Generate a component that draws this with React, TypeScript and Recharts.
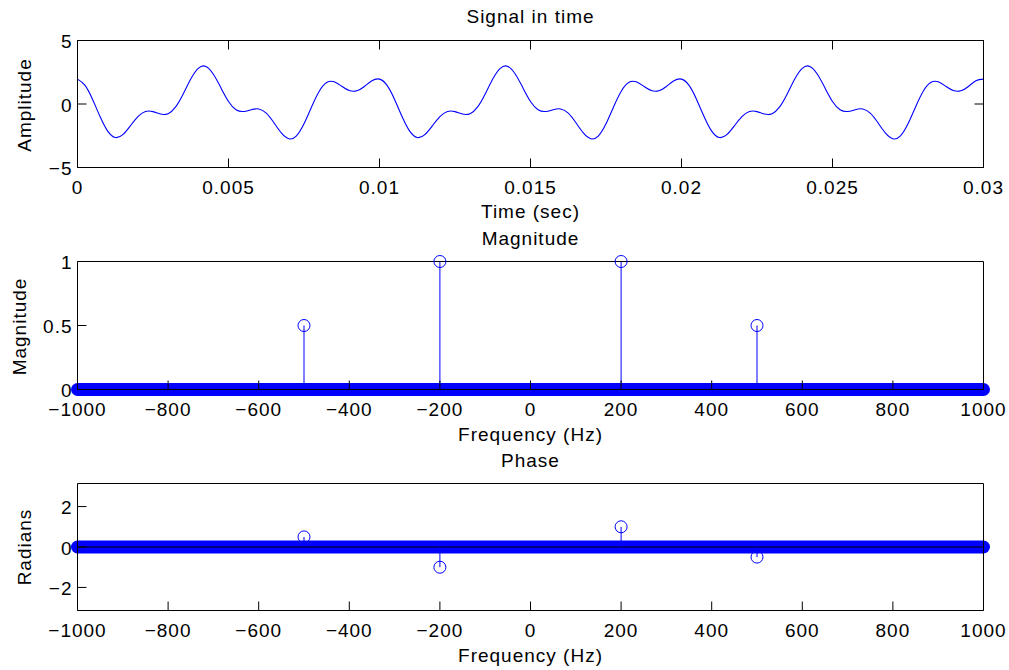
import React from 'react';
import { ComposedChart, LineChart, Line, Scatter, XAxis, YAxis } from 'recharts';

// time signal
const signalTime = [
  0, 0.00025, 0.0005, 0.00075, 0.001, 0.00125, 0.0015, 0.00175, 0.002, 0.00225,
  0.0025, 0.00275, 0.003, 0.00325, 0.0035, 0.00375, 0.004, 0.00425, 0.0045, 0.00475,
  0.005, 0.00525, 0.0055, 0.00575, 0.006, 0.00625, 0.0065, 0.00675, 0.007, 0.00725,
  0.0075, 0.00775, 0.008, 0.00825, 0.0085, 0.00875, 0.009, 0.00925, 0.0095, 0.00975,
  0.01, 0.01025, 0.0105, 0.01075, 0.011, 0.01125, 0.0115, 0.01175, 0.012, 0.01225,
  0.0125, 0.01275, 0.013, 0.01325, 0.0135, 0.01375, 0.014, 0.01425, 0.0145, 0.01475,
  0.015, 0.01525, 0.0155, 0.01575, 0.016, 0.01625, 0.0165, 0.01675, 0.017, 0.01725,
  0.0175, 0.01775, 0.018, 0.01825, 0.0185, 0.01875, 0.019, 0.01925, 0.0195, 0.01975,
  0.02, 0.02025, 0.0205, 0.02075, 0.021, 0.02125, 0.0215, 0.02175, 0.022, 0.02225,
  0.0225, 0.02275, 0.023, 0.02325, 0.0235, 0.02375, 0.024, 0.02425, 0.0245, 0.02475,
  0.025, 0.02525, 0.0255, 0.02575, 0.026, 0.02625, 0.0265, 0.02675, 0.027, 0.02725,
  0.0275, 0.02775, 0.028, 0.02825, 0.0285, 0.02875, 0.029, 0.02925, 0.0295, 0.02975,
  0.03,
];
const signalAmp = [
  1.96, 1.47, 0.36, -1.01, -2.14, -2.64, -2.41, -1.72, -0.99, -0.59,
  -0.6, -0.79, -0.76, -0.23, 0.79, 1.97, 2.81, 2.96, 2.34, 1.27,
  0.2, -0.45, -0.59, -0.45, -0.39, -0.72, -1.46, -2.28, -2.74, -2.51,
  -1.56, -0.23, 0.99, 1.69, 1.75, 1.4, 1.06, 1.04, 1.38, 1.83,
  1.96, 1.47, 0.36, -1.01, -2.14, -2.64, -2.41, -1.72, -0.99, -0.59,
  -0.6, -0.79, -0.76, -0.23, 0.79, 1.97, 2.81, 2.96, 2.34, 1.27,
  0.2, -0.45, -0.59, -0.45, -0.39, -0.72, -1.46, -2.28, -2.74, -2.51,
  -1.56, -0.23, 0.99, 1.69, 1.75, 1.4, 1.06, 1.04, 1.38, 1.83,
  1.96, 1.47, 0.36, -1.01, -2.14, -2.64, -2.41, -1.72, -0.99, -0.59,
  -0.6, -0.79, -0.76, -0.23, 0.79, 1.97, 2.81, 2.96, 2.34, 1.27,
  0.2, -0.45, -0.59, -0.45, -0.39, -0.72, -1.46, -2.28, -2.74, -2.51,
  -1.56, -0.23, 0.99, 1.69, 1.75, 1.4, 1.06, 1.04, 1.38, 1.83,
  1.96,
];
const timeTicks = [0, 0.005, 0.01, 0.015, 0.02, 0.025, 0.03];
const ampTicks = [-5, 0, 5];

// spectrum
const freqTicks = [-1000, -800, -600, -400, -200, 0, 200, 400, 600, 800, 1000];
const peakFreqs = [-500, -200, 200, 500];
const peakMagnitude = [0.5, 1, 1, 0.5];
const peakPhase = [0.5, -1, 1, -0.5];
// all other bins sit at zero from -1000 to 1000 (drawn as one solid run of markers)
const zeroBinRange = [-1000, 1000];
const magTicks = [0, 0.5, 1];
const phaseTicks = [-2, 0, 2];

const signalData = signalTime.map((t, i) => ({ t, v: signalAmp[i] }));
const zeroData = zeroBinRange.map((f) => ({ f, v: 0 }));
const magPeaks = peakFreqs.map((f, i) => ({ f, v: peakMagnitude[i] }));
const phasePeaks = peakFreqs.map((f, i) => ({ f, v: peakPhase[i] }));

const W = 1009;
const BLUE = '#0000ff';
const FONT = '"Liberation Sans", Arial, Helvetica, sans-serif';
const TICK = 9;

const fmt = (v: number) => (v < 0 ? '\u2212' + String(-v) : String(v));

const textStyle: React.CSSProperties = { letterSpacing: 1 };

const BottomTick = (props: any) => {
  const { x, y, payload } = props;
  return (
    <g>
      <line x1={x} y1={y} x2={x} y2={y - TICK} stroke="#000" />
      <text x={x} y={y + 26.5} textAnchor="middle" fontSize={19} fontFamily={FONT} fill="#000" style={textStyle}>
        {fmt(payload.value)}
      </text>
    </g>
  );
};
const TopTick = (props: any) => {
  const { x, y } = props;
  return <line x1={x} y1={y} x2={x} y2={y + TICK} stroke="#000" />;
};
const LeftTick = (props: any) => {
  const { x, y, payload } = props;
  return (
    <g>
      <line x1={x} y1={y} x2={x + TICK} y2={y} stroke="#000" />
      <text x={x - 5} y={y + 7.8} textAnchor="end" fontSize={19} fontFamily={FONT} fill="#000" style={textStyle}>
        {fmt(payload.value)}
      </text>
    </g>
  );
};
const RightTick = (props: any) => {
  const { x, y } = props;
  return <line x1={x - TICK} y1={y} x2={x} y2={y} stroke="#000" />;
};

function axes(xKey: string, xDomain: number[], xTicks: number[], yDomain: number[], yTicks: number[], topH: number, bottomH: number) {
  const common = { type: 'number' as const, interval: 0 as const, tickSize: 0, tickMargin: 0, tickLine: false, axisLine: { stroke: '#000' } };
  return [
    <XAxis key="xb" xAxisId="x" dataKey={xKey} orientation="bottom" height={bottomH} domain={xDomain} ticks={xTicks} tick={<BottomTick />} {...common} />,
    <XAxis key="xt" xAxisId="xt" dataKey={xKey} orientation="top" height={topH} domain={xDomain} ticks={xTicks} tick={<TopTick />} {...common} />,
    <YAxis key="yl" yAxisId="y" dataKey="v" orientation="left" width={77.5} domain={yDomain} ticks={yTicks} tick={<LeftTick />} {...common} />,
    <YAxis key="yr" yAxisId="yr" dataKey="v" orientation="right" width={25.5} domain={yDomain} ticks={yTicks} tick={<RightTick />} {...common} />,
  ];
}

const circle = (p: any) => <circle cx={p.cx} cy={p.cy} r={6} fill="none" stroke={BLUE} strokeWidth={1} />;

function StemPanel({ peaks, yDomain, yTicks, topH, bottomH, height }: any) {
  return (
    <ComposedChart width={W} height={height} margin={{ top: 0, right: 0, bottom: 0, left: 0 }}>
      {axes('f', [-1000, 1000], freqTicks, yDomain, yTicks, topH, bottomH)}
      <Line xAxisId="x" yAxisId="y" data={zeroData} dataKey="v" type="linear" stroke={BLUE} strokeWidth={13}
        strokeLinecap="round" dot={false} activeDot={false} isAnimationActive={false} />
      <Line xAxisId="x" yAxisId="y" data={zeroData} dataKey="v" type="linear" stroke="#000" strokeWidth={1}
        dot={false} activeDot={false} isAnimationActive={false} />
      {peaks.map((p: any, i: number) => (
        <Line key={i} xAxisId="x" yAxisId="y" data={[{ f: p.f, v: 0 }, p]} dataKey="v" type="linear" stroke={BLUE}
          strokeWidth={1} dot={false} activeDot={false} isAnimationActive={false} />
      ))}
      <Scatter xAxisId="x" yAxisId="y" data={peaks} dataKey="v" shape={circle} isAnimationActive={false} />
    </ComposedChart>
  );
}

const Txt = ({ x, y, children, rotate }: any) => (
  <text x={rotate ? 0 : x} y={rotate ? 0 : y} transform={rotate ? `translate(${x},${y}) rotate(-90)` : undefined}
    textAnchor="middle" fontSize={19} fontFamily={FONT} fill="#000" style={textStyle}>
    {children}
  </text>
);

export default function App() {
  return (
    <div style={{ position: 'absolute', left: 0, top: 0, width: W, height: 670, background: '#fff' }}>
      <div style={{ position: 'absolute', left: 0, top: 0 }}>
        <LineChart width={W} height={225} data={signalData} margin={{ top: 0, right: 0, bottom: 0, left: 0 }}>
          {axes('t', [0, 0.03], timeTicks, [-5, 5], ampTicks, 40.5, 57.5)}
          <Line xAxisId="x" yAxisId="y" dataKey="v" type="natural" stroke={BLUE} strokeWidth={1.1} dot={false}
            activeDot={false} isAnimationActive={false} />
        </LineChart>
      </div>
      <div style={{ position: 'absolute', left: 0, top: 225 }}>
        <StemPanel peaks={magPeaks} yDomain={[0, 1]} yTicks={magTicks} topH={36.5} bottomH={55.5} height={220} />
      </div>
      <div style={{ position: 'absolute', left: 0, top: 445 }}>
        <StemPanel peaks={phasePeaks} yDomain={[-Math.PI, Math.PI]} yTicks={phaseTicks} topH={38.5} bottomH={59.5} height={225} />
      </div>
      <svg width={W} height={670} style={{ position: 'absolute', left: 0, top: 0, pointerEvents: 'none' }}>
        <Txt x={530.5} y={23}>Signal in time</Txt>
        <Txt x={530.5} y={218}>Time (sec)</Txt>
        <Txt x={530.5} y={244.5}>Magnitude</Txt>
        <Txt x={530.5} y={440.5}>Frequency (Hz)</Txt>
        <Txt x={530.5} y={467}>Phase</Txt>
        <Txt x={530.5} y={662}>Frequency (Hz)</Txt>
        <Txt x={31} y={105} rotate>Amplitude</Txt>
        <Txt x={25.5} y={326.5} rotate>Magnitude</Txt>
        <Txt x={31} y={547} rotate>Radians</Txt>
      </svg>
    </div>
  );
}
